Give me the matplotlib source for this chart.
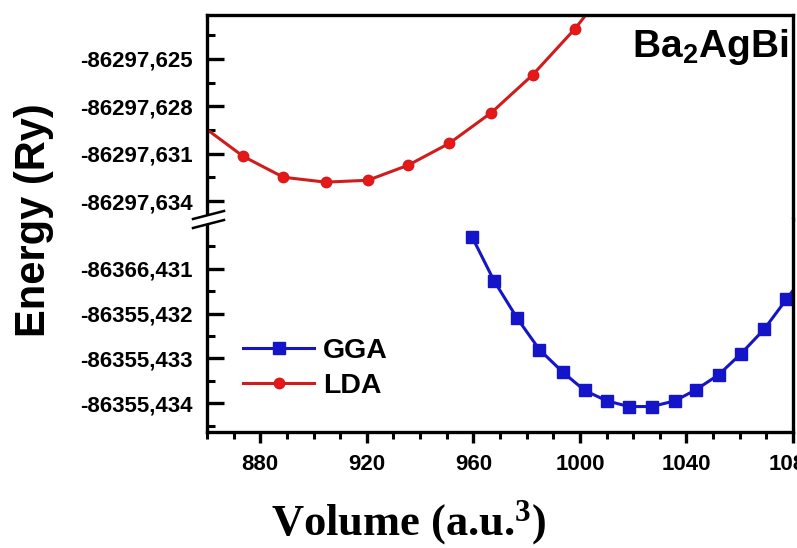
import matplotlib

matplotlib.use("Agg")
import matplotlib.pyplot as plt
from matplotlib.lines import Line2D
from matplotlib.patches import Polygon

# values
lda_volume = [858.0, 873.6, 888.7, 904.5, 920.4, 935.5, 950.9, 966.8, 982.3, 998.1, 1013.7]
lda_energy = [-86297.62922, -86297.63117, -86297.63249, -86297.63280, -86297.63268, -86297.63173,
              -86297.63035, -86297.62840, -86297.62601, -86297.62311, -86297.61978]

gga_volume = [959.6, 967.8, 976.5, 984.8, 993.5, 1001.8, 1010.1, 1018.4, 1026.9, 1035.7, 1043.5,
              1052.1, 1060.5, 1069.1, 1077.5, 1086.0]
gga_energy = [-86355.430302, -86355.431273, -86355.432108, -86355.432802, -86355.433301,
              -86355.433713, -86355.433944, -86355.434071, -86355.434071, -86355.433944,
              -86355.433698, -86355.433362, -86355.432892, -86355.432354, -86355.431683,
              -86355.431011]

top_ticks = [-86297.625, -86297.628, -86297.631, -86297.634]
top_labels = ["-86297,625", "-86297,628", "-86297,631", "-86297,634"]
top_minor = [-86297.6235, -86297.6265, -86297.6295, -86297.6325]
bot_ticks = [-86355.431, -86355.432, -86355.433, -86355.434]
bot_labels = ["-86366,431", "-86355,432", "-86355,433", "-86355,434"]
bot_minor = [-86355.4305, -86355.4315, -86355.4325, -86355.4335, -86355.4345]
x_ticks = [880, 920, 960, 1000, 1040, 1080]
x_minor = list(range(860, 1081, 10))

W, H = 797, 548


def fx(px):
    return px / W


def fy(py):
    return 1 - py / H


plt.rcParams["font.family"] = ["Liberation Sans", "DejaVu Sans"]
plt.rcParams["mathtext.default"] = "regular"

fig = plt.figure(figsize=(W / 100, H / 100), dpi=100)
left, right, top, brk, bottom = 207, 793, 15, 219, 432
ax_top = fig.add_axes([fx(left), fy(brk), (right - left) / W, (brk - top) / H])
ax_bot = fig.add_axes([fx(left), fy(bottom), (right - left) / W, (bottom - brk) / H])

red, blue = "#d01c1c", "#1414c8"
lda_line, = ax_top.plot(lda_volume, lda_energy, color=red, lw=2.2, marker="o", ms=7.5,
                        mec=red, mfc="#e81818", label="LDA")
gga_line, = ax_bot.plot(gga_volume, gga_energy, color=blue, lw=2.2, marker="s", ms=8,
                        mec=blue, mfc=blue, label="GGA")

for ax in (ax_top, ax_bot):
    ax.set_xlim(860, 1080)
    for s in ax.spines.values():
        s.set_linewidth(2.4)
    ax.tick_params(axis="y", which="major", direction="in", length=12, width=2.4, pad=10)
    ax.tick_params(axis="y", which="minor", direction="in", length=6, width=2.2)

ax_top.set_ylim(-86297.63513, -86297.62223)
ax_top.set_yticks(top_ticks, top_labels, fontweight="bold", fontsize=16)
ax_top.set_yticks(top_minor, minor=True)
ax_top.spines["bottom"].set_visible(False)
ax_top.tick_params(axis="x", which="both", bottom=False, labelbottom=False)

ax_bot.set_ylim(-86355.434638, -86355.429892)
ax_bot.set_yticks(bot_ticks, bot_labels, fontweight="bold", fontsize=16)
ax_bot.set_yticks(bot_minor, minor=True)
ax_bot.spines["top"].set_visible(False)
ax_bot.set_xticks(x_ticks, [str(v) for v in x_ticks], fontweight="bold", fontsize=16)
ax_bot.set_xticks(x_minor, minor=True)
ax_bot.tick_params(axis="x", which="major", direction="out", length=8, width=2.4, pad=8)
ax_bot.tick_params(axis="x", which="minor", direction="out", length=5, width=2.2)

# axis break on the left spine
upper = [(fx(193), fy(219)), (fx(224), fy(211))]
lower = [(fx(193), fy(228)), (fx(224), fy(220))]
fig.add_artist(Polygon(upper + lower[::-1], closed=True, transform=fig.transFigure,
                       facecolor="white", edgecolor="none", zorder=10))
for seg in (upper, lower):
    fig.add_artist(Line2D([p[0] for p in seg], [p[1] for p in seg], transform=fig.transFigure,
                          color="black", lw=1.8, zorder=11))

ax_top.text(fx(788), fy(57), "Ba$_{2}$AgBi", transform=fig.transFigure, ha="right",
            va="baseline", fontsize=28, fontweight="bold")

ax_bot.legend(handles=[gga_line, lda_line], loc="center left",
              bbox_to_anchor=(fx(243), fy(368.5)), bbox_transform=fig.transFigure,
              frameon=False, borderpad=0, borderaxespad=0, handlelength=2.5,
              handletextpad=0.3, labelspacing=0.3, prop={"weight": "bold", "size": 20.5})

fig.text(fx(34), fy(220), "Energy (Ry)", rotation=90, ha="center", va="center",
         fontsize=30, fontweight="bold")
fig.text(fx(409), fy(535), "Volume (a.u.$^{3}$)", ha="center", va="baseline",
         fontsize=32, fontweight="bold", family=["Liberation Serif", "DejaVu Serif"])

fig.savefig("out.png", dpi=100)
